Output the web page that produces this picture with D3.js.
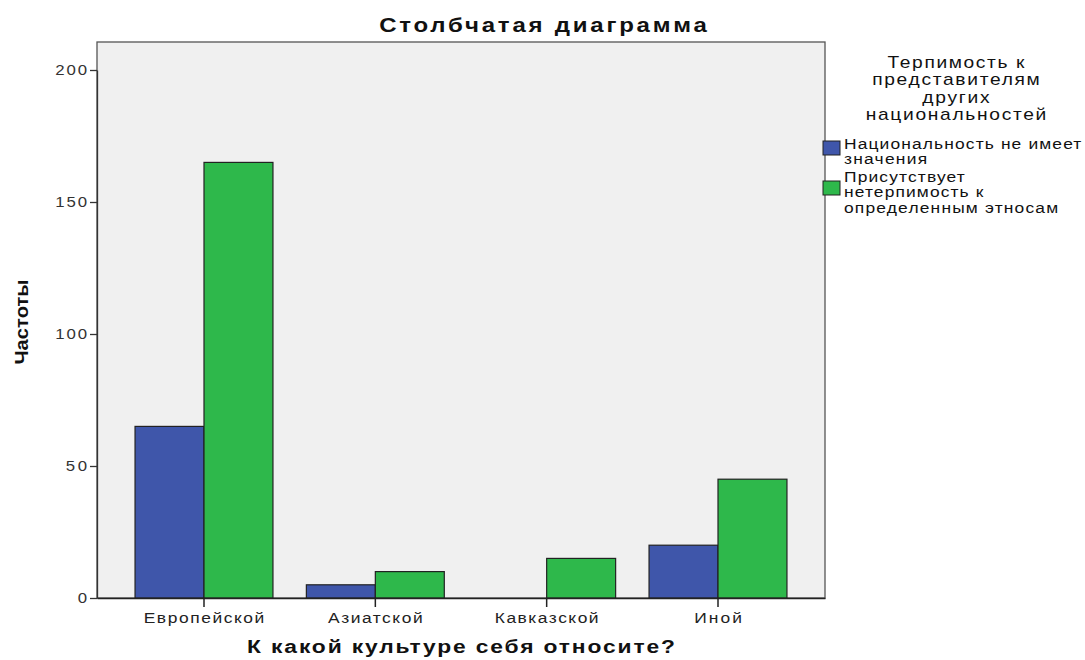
<html>
<head>
<meta charset="utf-8">
<title>Столбчатая диаграмма</title>
<style>
  body { margin: 0; background: #fff; }
  text { font-family: "Liberation Sans", Arial, sans-serif; }
</style>
</head>
<body>
<div id="chart"></div>
<script src="https://d3js.org/d3.v7.min.js"></script>
<script>
// data
var categories = ["Европейской", "Азиатской", "Кавказской", "Иной"];
var seriesNames = ["Национальность не имеет значения", "Присутствует нетерпимость к определенным этносам"];
var notImportant = [65, 5, 0, 20];
var intolerant = [165, 10, 15, 45];
var yTicks = [0, 50, 100, 150, 200];
var colors = ["#3f56aa", "#2eb84b"];

var W = 1085, H = 660;
var pLeft = 97, pRight = 825, pTop = 42, pBottom = 598;
var SX = 1.2; // horizontal glyph stretch

// SPSS text is drawn wider than our fonts: stretch glyphs a bit, then
// make up the rest with letter spacing so total width fits
function widen(sel, f) {
  sel.each(function() {
    var el = d3.select(this);
    var len = this.getComputedTextLength();
    var x0 = +el.attr("x") || 0;
    var tr = el.attr("transform") || "";
    el.attr("textLength", len * f / SX).attr("lengthAdjust", "spacing")
      .attr("transform", tr + " matrix(" + SX + ",0,0,1," + (x0 - SX * x0) + ",0)");
  });
}

var svg = d3.select("#chart").append("svg")
  .attr("width", W).attr("height", H);

var x = d3.scaleBand().domain(categories)
  .range([pLeft, pRight]).paddingInner(0.195).paddingOuter(0.222);
var xs = d3.scaleBand().domain([0, 1]).range([0, x.bandwidth()]);
var y = d3.scaleLinear().domain([0, 200]).range([pBottom, 70]);

// plot background
svg.append("rect")
  .attr("x", pLeft).attr("y", pTop)
  .attr("width", pRight - pLeft).attr("height", pBottom - pTop)
  .attr("fill", "#f0f0f0")
  .attr("stroke", "#555").attr("stroke-width", 1.3);

// bars
var rows = categories.map(function(c, i) { return {cat: c, vals: [notImportant[i], intolerant[i]]}; });
var g = svg.selectAll("g.cat").data(rows).enter().append("g").attr("class", "cat")
  .attr("transform", function(d) { return "translate(" + x(d.cat) + ",0)"; });
g.selectAll("rect")
  .data(function(d) { return d.vals.map(function(v, k) { return {v: v, k: k}; }).filter(function(e) { return e.v > 0; }); })
  .enter().append("rect")
  .attr("x", function(d) { return xs(d.k); })
  .attr("y", function(d) { return y(d.v); })
  .attr("width", xs.bandwidth())
  .attr("height", function(d) { return pBottom - y(d.v); })
  .attr("fill", function(d) { return colors[d.k]; })
  .attr("stroke", "#222").attr("stroke-width", 1.2);

// y axis
var yAxis = svg.append("g").attr("transform", "translate(" + pLeft + ",0)")
  .call(d3.axisLeft(y).tickValues(yTicks).tickSize(7).tickPadding(3).tickSizeOuter(0));
yAxis.select(".domain").attr("stroke", "#333").attr("stroke-width", 1.3);
yAxis.selectAll(".tick line").attr("stroke", "#333").attr("stroke-width", 1.3);
yAxis.selectAll(".tick text").attr("font-size", 14).attr("fill", "#333")
  .attr("font-family", "'Liberation Sans', Arial, sans-serif");
widen(yAxis.selectAll(".tick text"), 1.36);

// x axis
var xAxis = svg.append("g").attr("transform", "translate(0," + pBottom + ")")
  .call(d3.axisBottom(x).tickSize(9).tickPadding(6).tickSizeOuter(0));
xAxis.select(".domain").attr("stroke", "#222").attr("stroke-width", 1.5);
xAxis.selectAll(".tick line").attr("stroke", "#222").attr("stroke-width", 1.5);
xAxis.selectAll(".tick text").attr("font-size", 14.5).attr("fill", "#222")
  .attr("font-family", "'Liberation Sans', Arial, sans-serif");
widen(xAxis.selectAll(".tick text"), 1.38);

// titles
var t1 = svg.append("text").attr("x", 543).attr("y", 32).attr("text-anchor", "middle")
  .attr("font-size", 20).attr("font-weight", "bold").attr("fill", "#111").text("Столбчатая диаграмма");
widen(t1, 1.43);
var t2 = svg.append("text").attr("x", 461).attr("y", 653).attr("text-anchor", "middle")
  .attr("font-size", 19).attr("font-weight", "bold").attr("fill", "#111").text("К какой культуре себя относите?");
widen(t2, 1.38);
var t3 = svg.append("text").attr("transform", "translate(28,322) rotate(-90)")
  .attr("text-anchor", "middle").attr("font-size", 18).attr("font-weight", "bold").attr("fill", "#111")
  .attr("font-family", "'Liberation Sans Narrow', 'Liberation Sans', Arial, sans-serif")
  .text("Частоты");
t3.each(function() {
  var len = this.getComputedTextLength();
  d3.select(this).attr("textLength", len * 1.12).attr("lengthAdjust", "spacingAndGlyphs");
});

// legend
var legTitle = ["Терпимость к", "представителям", "других", "национальностей"];
var lt = svg.append("g").selectAll("text").data(legTitle).enter().append("text")
  .attr("x", 956).attr("y", function(d, i) { return 68 + i * 17.5; })
  .attr("text-anchor", "middle").attr("font-size", 16).attr("fill", "#111")
  .text(function(d) { return d; });
widen(lt, 1.38);

var legItems = [
  {lines: ["Национальность не имеет", "значения"], top: 137, sw: 141},
  {lines: ["Присутствует", "нетерпимость к", "определенным этносам"], top: 170, sw: 181}
];
var li = svg.append("g").selectAll("g").data(legItems).enter().append("g");
li.append("rect").attr("x", 823).attr("y", function(d) { return d.sw; })
  .attr("width", 17).attr("height", 14)
  .attr("fill", function(d, i) { return colors[i]; })
  .attr("stroke", "#222").attr("stroke-width", 1);
li.each(function(d) {
  var tx = d3.select(this).selectAll("text").data(d.lines).enter().append("text")
    .attr("x", 844).attr("y", function(t, j) { return d.top + 12 + j * 15.5; })
    .attr("font-size", 14.5).attr("fill", "#111")
    .text(function(t) { return t; });
  widen(tx, 1.34);
});
</script>
</body>
</html>
